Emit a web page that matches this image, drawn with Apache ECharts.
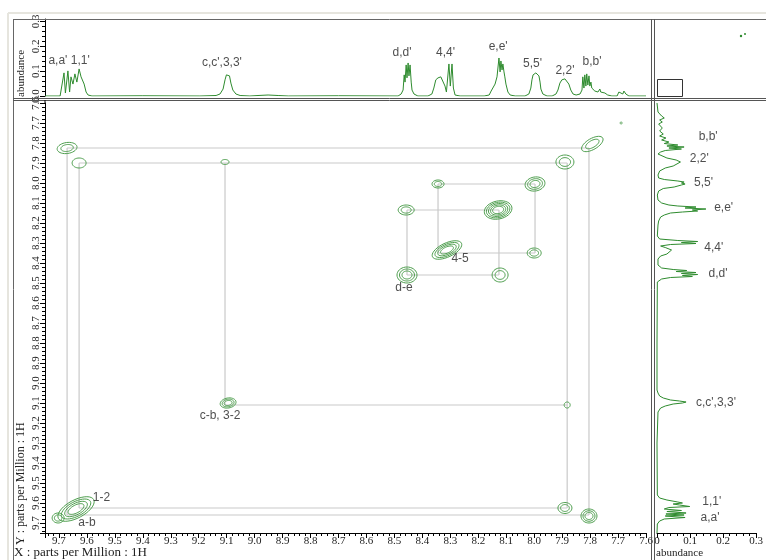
<!DOCTYPE html>
<html><head><meta charset="utf-8">
<script src="https://cdn.jsdelivr.net/npm/echarts@6/dist/echarts.min.js"></script>
<style>html,body{margin:0;padding:0;background:#fff}#c{width:766px;height:560px}</style>
</head><body><div id="c"></div>
<script>
// ---- 1D projection along F2 (top): [ppm, abundance]
const topSpectrum = [
[9.75,0],[9.696,0],[9.689,0.004],[9.682,0.093],[9.677,0.012],[9.668,0.101],[9.662,0.016],[9.657,0.077],[9.650,0.048],[9.643,0.089],[9.639,0.081],[9.636,0.056],[9.628,0.109],[9.621,0.077],[9.618,0.081],[9.610,0.048],[9.603,0.016],[9.596,0.004],[9.582,0],
[9.40,0.001],[9.196,0],[9.138,0.002],[9.124,0.008],[9.113,0.028],[9.106,0.065],[9.101,0.085],[9.095,0.089],[9.090,0.081],[9.085,0.052],[9.078,0.024],[9.067,0.008],[9.052,0.002],[9.017,0],[8.988,0.002],[8.952,0.004],[8.916,0.002],[8.88,0],[8.70,0.001],[8.487,0],
[8.476,0.008],[8.469,0.024],[8.465,0.085],[8.462,0.056],[8.458,0.125],[8.455,0.073],[8.451,0.133],[8.448,0.081],[8.444,0.125],[8.440,0.056],[8.437,0.024],[8.430,0.008],[8.416,0],
[8.380,0],[8.366,0.008],[8.359,0.032],[8.352,0.065],[8.344,0.073],[8.334,0.077],[8.327,0.069],[8.319,0.040],[8.314,0.016],[8.311,0.012],[8.305,0.129],[8.300,0.040],[8.294,0.129],[8.289,0.032],[8.283,0.004],[8.265,0],
[8.179,0],[8.161,0.004],[8.154,0.020],[8.150,0.028],[8.147,0.024],[8.140,0.048],[8.133,0.077],[8.129,0.085],[8.126,0.153],[8.122,0.097],[8.119,0.141],[8.115,0.105],[8.112,0.129],[8.108,0.097],[8.105,0.077],[8.101,0.048],[8.094,0.016],[8.086,0.004],[8.068,0],
[8.033,0],[8.019,0.008],[8.012,0.032],[8.008,0.065],[8.004,0.085],[8.001,0.093],[7.997,0.085],[7.994,0.093],[7.990,0.085],[7.987,0.093],[7.983,0.081],[7.979,0.056],[7.976,0.028],[7.969,0.008],[7.954,0],
[7.936,0],[7.922,0.008],[7.915,0.024],[7.908,0.052],[7.901,0.065],[7.890,0.069],[7.883,0.065],[7.876,0.048],[7.869,0.024],[7.861,0.008],[7.850,0.004],
[7.836,0.008],[7.829,0.024],[7.826,0.077],[7.822,0.032],[7.819,0.085],[7.815,0.040],[7.812,0.089],[7.808,0.044],[7.804,0.081],[7.801,0.040],[7.797,0.056],[7.794,0.032],[7.790,0.024],[7.787,0.032],[7.783,0.020],[7.776,0.028],[7.772,0.016],[7.765,0.028],[7.762,0.016],[7.755,0.024],[7.747,0.012],[7.737,0.004],[7.722,0],
[7.7035,0],[7.697,0.016],[7.693,0.008],[7.690,0.020],[7.683,0.008],[7.679,0.020],[7.672,0.008],[7.668,0.016],[7.661,0],[7.6,0]
];
// ---- 1D projection along F1 (right): [ppm, abundance]
const sideSpectrum = [
[7.6,0],[7.645,0.003],[7.665,0.014],[7.675,0.022],[7.685,0.008],[7.695,0.016],[7.705,0.005],[7.725,0.016],[7.74,0.008],[7.755,0.019],[7.765,0.008],[7.775,0.027],[7.785,0.014],[7.795,0.036],[7.8025,0.022],[7.81,0.063],[7.815,0.030],[7.82,0.082],[7.825,0.036],[7.83,0.074],[7.8375,0.025],[7.845,0.011],[7.855,0.003],
[7.865,0.008],[7.875,0.030],[7.885,0.058],[7.895,0.071],[7.905,0.068],[7.915,0.049],[7.925,0.025],[7.94,0.008],[7.96,0.003],
[7.975,0.005],[7.9825,0.022],[7.99,0.063],[7.995,0.082],[8.0,0.074],[8.005,0.085],[8.01,0.074],[8.015,0.079],[8.02,0.052],[8.0275,0.019],[8.04,0.005],[8.06,0.001],
[8.085,0.003],[8.1,0.014],[8.11,0.036],[8.115,0.063],[8.12,0.118],[8.125,0.085],[8.13,0.148],[8.135,0.107],[8.14,0.123],[8.145,0.077],[8.15,0.041],[8.16,0.022],[8.17,0.011],[8.18,0.016],[8.19,0.005],[8.21,0.003],
[8.265,0.001],[8.28,0.008],[8.2875,0.063],[8.2925,0.123],[8.2975,0.074],[8.3025,0.118],[8.3075,0.041],[8.315,0.011],[8.3225,0.025],[8.335,0.044],[8.345,0.047],[8.355,0.030],[8.365,0.011],[8.38,0.003],
[8.41,0.003],[8.425,0.014],[8.4325,0.049],[8.4375,0.090],[8.4425,0.058],[8.4475,0.118],[8.4525,0.074],[8.4575,0.123],[8.4625,0.077],[8.4675,0.107],[8.4725,0.041],[8.48,0.014],[8.495,0.001],
[8.8,0],[9.035,0],[9.05,0.003],[9.065,0.008],[9.075,0.019],[9.085,0.041],[9.09,0.068],[9.095,0.088],[9.1,0.077],[9.105,0.049],[9.115,0.025],[9.125,0.011],[9.145,0.003],[9.3,0],
[9.56,0.001],[9.575,0.008],[9.585,0.030],[9.595,0.063],[9.6,0.077],[9.605,0.049],[9.61,0.068],[9.6175,0.099],[9.6225,0.036],[9.63,0.022],[9.6375,0.074],[9.6425,0.030],[9.65,0.088],[9.655,0.027],[9.66,0.082],[9.665,0.025],[9.6725,0.085],[9.68,0.022],[9.69,0.008],[9.705,0.001],[9.75,0]
];
// ---- chemical shifts used for the correlation boxes (F2 = x, F1 = y)
const protonNames = ['a','1','c','2','b','d','e','4','5'];
const shiftsF2 = [9.671, 9.628, 9.106, 7.882, 7.804, 8.455, 8.126, 8.344, 7.997];
const shiftsF1 = [9.660, 9.625, 9.110, 7.900, 7.825, 8.460, 8.135, 8.350, 8.005];
// correlation pairs: [p, q, full box?]
const correlations = [['a','b',1],['1','2',1],['c','2',0],['d','e',1],['4','5',1]];
// ---- cross / diagonal peaks (F2 ppm, F1 ppm)
const peaksF2 = [9.671,9.628,7.792,7.890,7.689,9.106,9.095,7.882,9.639,9.703,7.890,7.804,8.344,7.997,8.458,8.129,8.312,8.000,8.455,8.122];
const peaksF1 = [7.825,7.900,7.805,7.895,7.700,7.895,9.100,9.110,9.630,9.675,9.625,9.665,8.005,8.005,8.135,8.135,8.335,8.350,8.460,8.460];
// contour drawing style per peak: [rx px, ry px, tilt deg, levels]
const contourStyle = [[10,5.5,8,2],[7,5,0,1],[12,5.5,30,2],[9,7,0,2],[1,1,0,1],[4,2.5,0,1],[8,5,10,3],[3,3,0,1],[20,9,28,4],[6,5,0,2],[7,5.5,0,2],[8,7,0,3],[6,4,0,2],[10,7,10,3],[8,5,0,2],[14,9,12,5],[16,7,25,4],[7,5,0,2],[10,8,0,3],[8,7,0,2]];
// ---- labels
const topLabelNames = ["a,a' 1,1'","c,c',3,3'","d,d'","4,4'","e,e'","5,5'","2,2'","b,b'"];
const topLabelPpm = [9.664,9.117,8.473,8.317,8.129,8.006,7.890,7.793];
const topLabelAb  = [0.141,0.133,0.173,0.173,0.198,0.129,0.101,0.137];
const sideLabelNames = ["b,b'","2,2'","5,5'","e,e'","4,4'","d,d'","c,c',3,3'","1,1'","a,a'"];
const sideLabelPpm = [7.77,7.88,8.0,8.125,8.325,8.455,9.10,9.595,9.675];
const sideLabelAb  = [0.126,0.099,0.112,0.173,0.143,0.156,0.118,0.137,0.132];
const mainLabelNames = ["1-2","a-b","c-b, 3-2","4-5","d-e"];
const mainLabelF2 = [9.548,9.600,9.124,8.265,8.466];
const mainLabelF1 = [9.575,9.700,9.165,8.380,8.525];
const ppmTicks = {min:7.6, max:9.75, step:0.1};
const abTicks = {min:0, maxTop:0.31, maxSide:0.3, step:0.1};

// ---------- build
const idx = n => protonNames.indexOf(n);
const segs = [];
correlations.forEach(([p,q,full])=>{
  const xp=shiftsF2[idx(p)], xq=shiftsF2[idx(q)], yp=shiftsF1[idx(p)], yq=shiftsF1[idx(q)];
  if(full){
    segs.push([xp,yq,xq,yq],[xp,yp,xq,yp],[xp,yq,xp,yp],[xq,yq,xq,yp]);
  } else {
    segs.push([xp,yq,xp,yp],[xp,yp,xq,yp]);
  }
});
const peakData = peaksF2.map((x,i)=>[x,peaksF1[i]]);
const green = '#2e8b2e';
const contourGreen = '#4f9f4f';
const serif = 'Liberation Serif';
const sans = 'Liberation Sans';
const fmt1 = v => (Math.abs(v*10-Math.round(v*10))<1e-6) ? (Math.abs(v)<1e-9?'0.0':v.toFixed(1)) : '';
const axisCommon = {
  axisLine:{show:true,lineStyle:{color:'#000',width:1}},
  axisTick:{show:true,length:5,lineStyle:{color:'#000'}},
  minorTick:{show:true,splitNumber:5,length:3,lineStyle:{color:'#000'}},
  splitLine:{show:false},
  axisLabel:{fontFamily:serif,fontSize:11,color:'#222',margin:3,formatter:fmt1}
};

function ellipsePts(cx,cy,rx,ry,deg){
  const th = deg*Math.PI/180, pts=[];
  for(let k=0;k<36;k++){
    const t=k/36*Math.PI*2, x=rx*Math.cos(t), y=ry*Math.sin(t);
    pts.push([cx + x*Math.cos(th) + y*Math.sin(th), cy - x*Math.sin(th) + y*Math.cos(th)]);
  }
  return pts;
}

const option = {
  animation:false,
  backgroundColor:'#fff',
  grid:[
    {left:45, top:103, width:601, height:430},
    {left:45, top:19, width:601, height:77},
    {left:657, top:103, width:110, height:430}
  ],
  xAxis:[
    Object.assign({}, axisCommon, {gridIndex:0,type:'value',inverse:true,min:ppmTicks.min,max:ppmTicks.max,interval:ppmTicks.step}),
    {gridIndex:1,type:'value',inverse:true,min:ppmTicks.min,max:ppmTicks.max,show:false},
    Object.assign({}, axisCommon, {gridIndex:2,type:'value',min:abTicks.min,max:abTicks.maxSide,interval:abTicks.step,
      axisLabel:{fontFamily:serif,fontSize:11,color:'#222',margin:3,formatter:v=>Math.abs(v)<1e-9?'0':fmt1(v)}})
  ],
  yAxis:[
    Object.assign({}, axisCommon, {gridIndex:0,type:'value',inverse:true,min:ppmTicks.min,max:ppmTicks.max,interval:ppmTicks.step,
      axisLabel:{fontFamily:serif,fontSize:11,color:'#222',margin:3,rotate:90,formatter:fmt1}}),
    Object.assign({}, axisCommon, {gridIndex:1,type:'value',min:abTicks.min,max:abTicks.maxTop,interval:abTicks.step,
      axisLabel:{fontFamily:serif,fontSize:11,color:'#222',margin:3,rotate:90,formatter:fmt1}}),
    {gridIndex:2,type:'value',inverse:true,min:ppmTicks.min,max:ppmTicks.max,show:false}
  ],
  series:[
    {type:'custom',xAxisIndex:0,yAxisIndex:0,data:segs,silent:true,z:2,
      renderItem:(params,api)=>{
        const a=api.coord([api.value(0),api.value(1)]), b=api.coord([api.value(2),api.value(3)]);
        return {type:'line',shape:{x1:a[0],y1:a[1],x2:b[0],y2:b[1]},style:{stroke:'#c9c9c9',lineWidth:1.2}};
      }},
    {type:'custom',xAxisIndex:0,yAxisIndex:0,data:peakData,silent:true,z:3,
      renderItem:(params,api)=>{
        const c=api.coord([api.value(0),api.value(1)]);
        const [rx,ry,deg,lv]=contourStyle[params.dataIndex];
        const children=[];
        for(let k=0;k<lv;k++){
          const s = lv===1?1:1-k*(0.75/lv);
          children.push({type:'polygon',shape:{points:ellipsePts(c[0],c[1],Math.max(rx*s,0.8),Math.max(ry*s,0.8),deg),smooth:0.3},
            style:{fill:'none',stroke:contourGreen,lineWidth:1}});
        }
        return {type:'group',children};
      }},
    {type:'line',xAxisIndex:1,yAxisIndex:1,data:topSpectrum,showSymbol:false,silent:true,
      lineStyle:{color:green,width:1}},
    {type:'line',xAxisIndex:2,yAxisIndex:2,data:sideSpectrum.map(d=>[d[1],d[0]]),showSymbol:false,silent:true,
      lineStyle:{color:green,width:1}},
    {type:'scatter',xAxisIndex:1,yAxisIndex:1,symbolSize:0,silent:true,
      data:topLabelNames.map((n,i)=>({name:n,value:[topLabelPpm[i],topLabelAb[i]]})),
      label:{show:true,position:'inside',formatter:'{b}',color:'#222',fontFamily:sans,fontSize:12}},
    {type:'scatter',xAxisIndex:2,yAxisIndex:2,symbolSize:0,silent:true,
      data:sideLabelNames.map((n,i)=>({name:n,value:[sideLabelAb[i],sideLabelPpm[i]]})),
      label:{show:true,position:'right',distance:0,formatter:'{b}',color:'#222',fontFamily:sans,fontSize:12}},
    {type:'scatter',xAxisIndex:0,yAxisIndex:0,symbolSize:0,silent:true,z:5,
      data:mainLabelNames.map((n,i)=>({name:n,value:[mainLabelF2[i],mainLabelF1[i]]})),
      label:{show:true,position:'inside',formatter:'{b}',color:'#222',fontFamily:sans,fontSize:12}}
  ],
  graphic:[
    {type:'line',shape:{x1:8,y1:13,x2:766,y2:13},style:{stroke:'#e6e5de',lineWidth:2},z:100},
    {type:'line',shape:{x1:8,y1:13,x2:8,y2:560},style:{stroke:'#e6e5de',lineWidth:2},z:100},
    {type:'line',shape:{x1:13,y1:19.5,x2:766,y2:19.5},style:{stroke:'#666',lineWidth:1},z:100},
    {type:'line',shape:{x1:13.5,y1:19,x2:13.5,y2:560},style:{stroke:'#666',lineWidth:1},z:100},
    {type:'line',shape:{x1:13,y1:98.5,x2:766,y2:98.5},style:{stroke:'#555',lineWidth:1},z:100},
    {type:'line',shape:{x1:13,y1:100.5,x2:766,y2:100.5},style:{stroke:'#555',lineWidth:1},z:100},
    {type:'line',shape:{x1:651.5,y1:19,x2:651.5,y2:560},style:{stroke:'#555',lineWidth:1},z:100},
    {type:'line',shape:{x1:654.5,y1:19,x2:654.5,y2:560},style:{stroke:'#555',lineWidth:1},z:100},
    {type:'line',shape:{x1:45,y1:100,x2:45,y2:104},style:{stroke:'#000',lineWidth:1},z:100},
    {type:'rect',shape:{x:657.5,y:79.5,width:25,height:17},style:{fill:'none',stroke:'#333',lineWidth:1},z:100},
    {type:'circle',shape:{cx:741,cy:36,r:1.2},style:{fill:green},z:100},
    {type:'circle',shape:{cx:745,cy:34,r:1},style:{fill:green},z:100},
    {type:'text',x:14,y:546,style:{text:'X : parts per Million : 1H',font:'13px "Liberation Serif"',fill:'#222'},z:100},
    {type:'text',x:15,y:545,rotation:Math.PI/2,style:{text:'Y : parts per Million : 1H',font:'12px "Liberation Serif"',fill:'#222',align:'left',verticalAlign:'top'},z:100},
    {type:'text',x:16,y:97,rotation:Math.PI/2,style:{text:'abundance',font:'11px "Liberation Serif"',fill:'#222',align:'left',verticalAlign:'top'},z:100},
    {type:'text',x:656,y:548,style:{text:'abundance',font:'11px "Liberation Serif"',fill:'#222'},z:100}
  ]
};
echarts.init(document.getElementById('c'),null,{renderer:'canvas'}).setOption(option);
</script></body></html>
